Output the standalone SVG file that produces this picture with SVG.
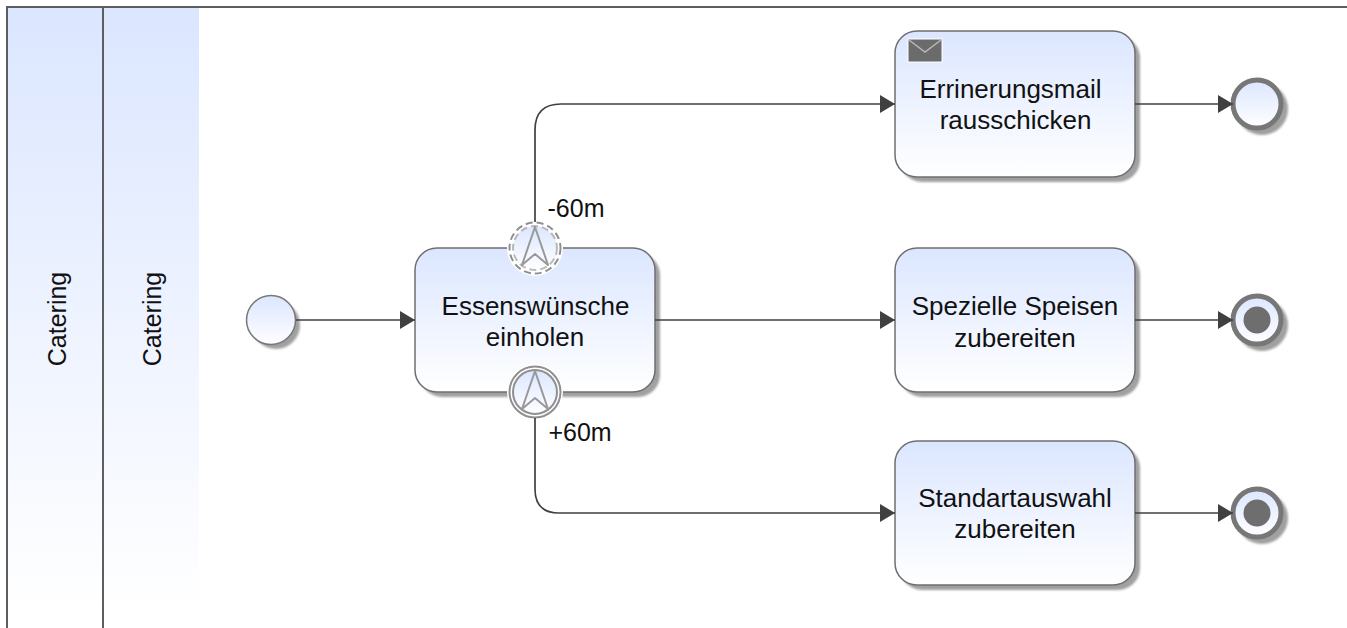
<svg xmlns="http://www.w3.org/2000/svg" width="1347" height="628" viewBox="0 0 1347 628">
<defs>
<linearGradient id="g" x1="0" y1="0" x2="0" y2="1"><stop offset="0" stop-color="#dbe6ff"/><stop offset="1" stop-color="#ffffff"/></linearGradient>
<filter id="blur" x="-20%" y="-20%" width="140%" height="140%"><feGaussianBlur stdDeviation="1.2"/></filter>
<marker id="arrow" markerUnits="userSpaceOnUse" markerWidth="16" markerHeight="18" refX="15" refY="9" orient="auto"><path d="M0 0L15 9L0 18Z" fill="#404040"/></marker>
<style>
.task{fill:url(#g);stroke:#6f6f6f;stroke-width:1.5}
.shadow{fill:#a0a0a0;filter:url(#blur)}
.conn{fill:none;stroke:#404040;stroke-width:1.7;marker-end:url(#arrow)}
.lane{fill:url(#g)}
.line{stroke:#5e5e5e;stroke-width:2;fill:none}
text{font-family:"Liberation Sans",Arial,sans-serif;font-size:25px;fill:#111;text-anchor:middle}
.t{font-size:26px}
.ev{fill:url(#g);stroke:#777;stroke-width:5}
.start{fill:url(#g);stroke:#777;stroke-width:1.5}
.dot{fill:#6e6e6e}
.ring{fill:none;stroke:#8f8f8f;stroke-width:2}
.halo{fill:#fff}
.tri{fill:none;stroke:#999;stroke-width:2;stroke-linejoin:round}
</style>
</defs>
<rect width="1347" height="628" fill="#fff"/>
<g id="lanes">
<rect class="lane" x="7" y="8" width="192" height="604"/>
<path class="line" d="M7 628V7H1347"/>
<path class="line" d="M103 8V628"/>
<text transform="translate(66 319) rotate(-90)">Catering</text>
<text transform="translate(161 319) rotate(-90)">Catering</text>
</g>
<g id="start">
<circle class="shadow" cx="276" cy="325" r="24"/>
<circle class="start" cx="271" cy="320" r="24.500"/>
</g>
<g id="task-essen">
<rect class="shadow" x="420" y="253" width="240" height="144" rx="22"/>
<rect class="task" x="415" y="248" width="240" height="144" rx="22"/>
<text class="t" x="535.500" y="315">Essenswünsche</text>
<text class="t" x="535" y="346">einholen</text>
</g>
<g id="task-mail">
<rect class="shadow" x="900" y="36" width="240" height="146" rx="22"/>
<rect class="task" x="895" y="31" width="240" height="146" rx="22"/>
<rect x="908" y="39" width="34" height="23" fill="#6b6b6b" stroke="#fff" stroke-width="1"/>
<path d="M909 40L925 52L941 40" fill="none" stroke="#b8b8b8" stroke-width="1.500"/>
<text class="t" x="1010.500" y="98">Errinerungsmail</text>
<text class="t" x="1015.500" y="129">rausschicken</text>
</g>
<g id="task-speisen">
<rect class="shadow" x="900" y="253" width="240" height="144" rx="22"/>
<rect class="task" x="895" y="248" width="240" height="144" rx="22"/>
<text class="t" x="1015" y="315">Spezielle Speisen</text>
<text class="t" x="1015" y="347">zubereiten</text>
</g>
<g id="task-standard">
<rect class="shadow" x="900" y="446" width="240" height="144" rx="22"/>
<rect class="task" x="895" y="441" width="240" height="144" rx="22"/>
<text class="t" x="1015" y="507">Standartauswahl</text>
<text class="t" x="1015" y="538">zubereiten</text>
</g>
<g id="end-mail">
<circle class="shadow" cx="1262" cy="109" r="26"/>
<circle class="ev" cx="1257" cy="104" r="24"/>
</g>
<g id="end-speisen">
<circle class="shadow" cx="1262" cy="325" r="26"/>
<circle class="ev" cx="1257" cy="320" r="24"/>
<circle class="dot" cx="1257" cy="320" r="13.500"/>
</g>
<g id="end-standard">
<circle class="shadow" cx="1262" cy="518" r="26"/>
<circle class="ev" cx="1257" cy="513" r="24"/>
<circle class="dot" cx="1257" cy="513" r="13.500"/>
</g>
<g id="timer-minus">
<circle class="halo" cx="535" cy="248" r="28"/>
<circle cx="535" cy="248" r="22" fill="url(#g)"/>
<circle class="ring" cx="535" cy="248" r="25.500" stroke-dasharray="7 4"/>
<circle class="ring" cx="535" cy="248" r="22" stroke-dasharray="7 4" opacity=".6"/>
<path class="tri" d="M535 227L522 265L535 254L548 265Z"/>
<text x="576" y="217">-60m</text>
</g>
<g id="timer-plus">
<circle class="halo" cx="535" cy="392" r="28"/>
<circle cx="535" cy="392" r="22" fill="url(#g)"/>
<circle class="ring" cx="535" cy="392" r="25.500"/>
<circle class="ring" cx="535" cy="392" r="22"/>
<path class="tri" d="M535 371L522 409L535 398L548 409Z"/>
<text x="580" y="441">+60m</text>
</g>
<g id="connectors">
<path class="conn" d="M296 320H415"/>
<path class="conn" d="M535 222V130Q535 104 561 104H895"/>
<path class="conn" d="M655 320H895"/>
<path class="conn" d="M535 418V489Q535 513 559 513H895"/>
<path class="conn" d="M1135 104H1233"/>
<path class="conn" d="M1135 320H1233"/>
<path class="conn" d="M1135 513H1233"/>
</g>
</svg>
